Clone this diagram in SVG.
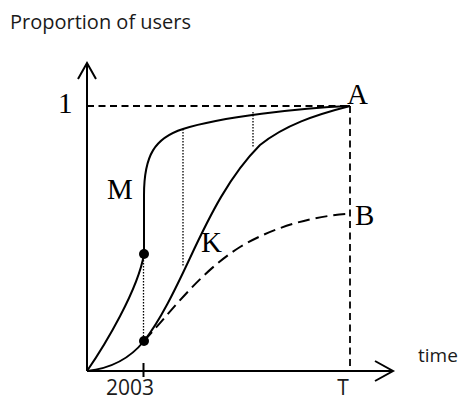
<svg xmlns="http://www.w3.org/2000/svg" width="461" height="401" viewBox="0 0 461 401">
<style>
.sans{font-family:"Open Sans","DejaVu Sans",sans-serif;font-size:19px;fill:#1a1a1a}
.serif{font-family:"Liberation Serif","Times New Roman",serif;font-size:29px;fill:#000}
.ax{stroke:#000;stroke-width:2;fill:none}
.cv{stroke:#000;stroke-width:2;fill:none}
.dash{stroke:#000;stroke-width:1.8;fill:none;stroke-dasharray:7 4.5}
.dashB{stroke:#000;stroke-width:2;fill:none;stroke-dasharray:12 6}
.dot{stroke:#000;stroke-width:1.3;fill:none;stroke-dasharray:1.5 1.5}
</style>
<rect width="461" height="401" fill="#fff"/>
<g id="labels">
<text class="sans" x="10" y="29" style="font-size:20px">Proportion of users</text>
<text class="sans" x="418" y="362">time</text>
<text class="sans" x="130" y="395" text-anchor="middle" style="font-size:21px">2003</text>
<text class="sans" x="343" y="395" text-anchor="middle" style="font-size:21px">T</text>
</g>
<g id="axes">
<path class="ax" d="M87,371 V63 M78,79 L87,63 L96,79"/>
<path class="ax" d="M87,371 H393 M375,361 L393,371 L375,381"/>
<path class="ax" d="M143.5,363 V377"/>
</g>
<g id="guides">
<path class="dash" d="M87,106 H350"/>
<path class="dash" d="M350,106 V371"/>
<path class="dot" d="M143.5,254 V341"/>
<path class="dot" d="M183,129 V267"/>
<path class="dot" d="M253,112 V148"/>
</g>
<g id="connectors">
<path id="curveM" class="cv" d="M87,371 C105,345 138,290 144,254 L144,195 C144,155 155,138 183,129 C220,117 300,108 350,106"/>
<path id="curveK" class="cv" d="M87,371 C115,368 132,356 144,341 C160,321 175,290 190,258 C210,215 230,175 260,145 C285,125 315,115 350,106"/>
<path id="curveB" class="dashB" d="M144,341 C170,313 200,272 240,247 C275,226 315,216 347,214"/>
</g>
<g id="node-dot-upper"><circle cx="144" cy="254" r="5" fill="#000"/></g>
<g id="node-dot-lower"><circle cx="144" cy="341" r="5" fill="#000"/></g>
<g id="node-1"><text class="serif" x="58" y="113">1</text></g>
<g id="node-A"><text class="serif" x="347" y="104">A</text></g>
<g id="node-M"><text class="serif" x="107" y="199">M</text></g>
<g id="node-K"><text class="serif" x="201" y="252">K</text></g>
<g id="node-B"><text class="serif" x="355" y="225">B</text></g>
</svg>
